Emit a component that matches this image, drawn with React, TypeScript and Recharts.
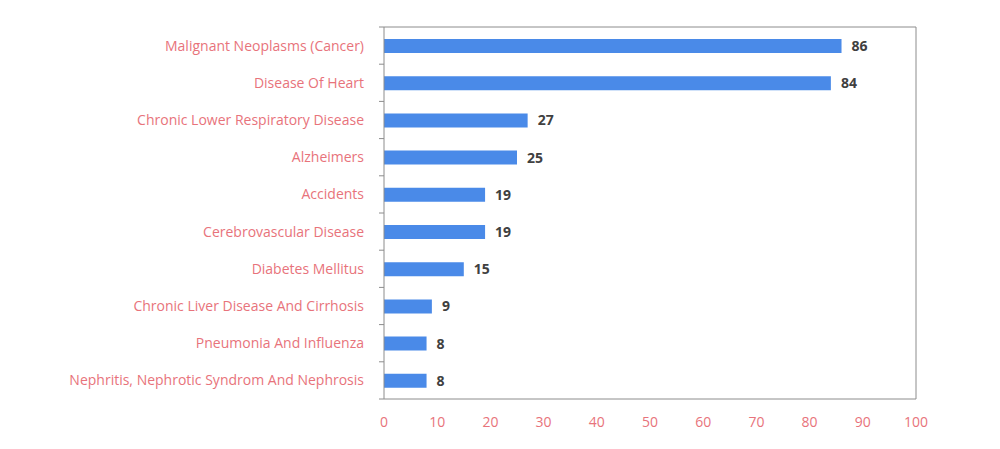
import { BarChart, Bar, XAxis, YAxis, LabelList } from "recharts";

// causes of death, top to bottom
const causes = [
  "Malignant Neoplasms (Cancer)",
  "Disease Of Heart",
  "Chronic Lower Respiratory Disease",
  "Alzheimers",
  "Accidents",
  "Cerebrovascular Disease",
  "Diabetes Mellitus",
  "Chronic Liver Disease And Cirrhosis",
  "Pneumonia And Influenza",
  "Nephritis, Nephrotic Syndrom And Nephrosis",
];
const deaths = [86, 84, 27, 25, 19, 19, 15, 9, 8, 8];
const xTicks = [0, 10, 20, 30, 40, 50, 60, 70, 80, 90, 100];

const data = causes.map((cause, i) => ({ cause, deaths: deaths[i] }));

const FONT = "'Open Sans', sans-serif";
const LABEL_RED = "#e8737b";
const FRAME = "#8c8c8c";

// category label plus an Excel style tick mark between categories
function CauseTick(props: any) {
  const { x, y, payload } = props;
  const half = payload?.offset ?? 18.6;
  return (
    <g>
      <text
        x={x - 12}
        y={y}
        dy="0.36em"
        textAnchor="end"
        fill={LABEL_RED}
        fontSize={14}
        fontFamily={FONT}
      >
        {payload.value}
      </text>
      <line x1={x + 3} x2={x + 8} y1={y + half} y2={y + half} stroke={FRAME} />
      {payload.index === 0 ? (
        <line x1={x + 3} x2={x + 8} y1={y - half} y2={y - half} stroke={FRAME} />
      ) : null}
    </g>
  );
}

export default function App() {
  return (
    <div style={{ position: "absolute", left: 0, top: 0, background: "#fff" }}>
      <BarChart
        width={1000}
        height={449}
        data={data}
        layout="vertical"
        margin={{ top: 26, right: 83, bottom: 20, left: 0 }}
      >
        <XAxis
          type="number"
          domain={[0, 100]}
          ticks={xTicks}
          interval={0}
          tickLine={false}
          axisLine={{ stroke: FRAME }}
          tickMargin={12}
          height={30}
          tick={{ fill: LABEL_RED, fontSize: 14, fontFamily: FONT }}
        />
        <XAxis
          xAxisId="top"
          type="number"
          domain={[0, 100]}
          orientation="top"
          height={1}
          tick={false}
          tickLine={false}
          axisLine={{ stroke: FRAME }}
        />
        <YAxis
          type="category"
          dataKey="cause"
          width={384}
          interval={0}
          tickLine={false}
          axisLine={{ stroke: FRAME }}
          tick={<CauseTick />}
        />
        <YAxis
          yAxisId="right"
          type="category"
          dataKey="cause"
          orientation="right"
          width={1}
          tick={false}
          tickLine={false}
          axisLine={{ stroke: FRAME }}
        />
        <Bar dataKey="deaths" fill="#4a8ae8" barSize={14} isAnimationActive={false}>
          <LabelList
            dataKey="deaths"
            position="right"
            offset={10}
            fill="#404040"
            fontSize={14}
            fontWeight="bold"
            fontFamily={FONT}
          />
        </Bar>
      </BarChart>
    </div>
  );
}
